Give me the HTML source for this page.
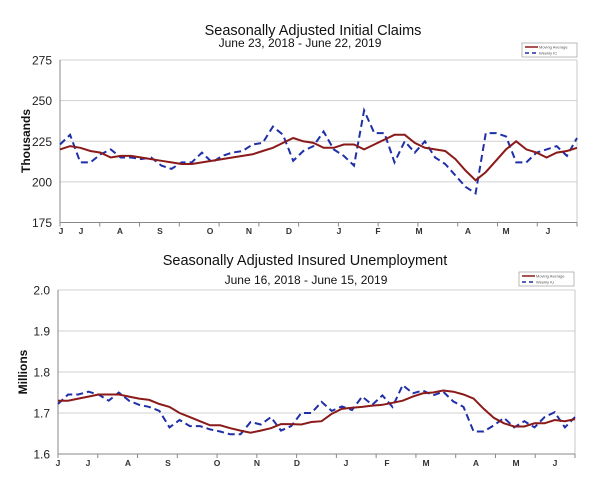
<!DOCTYPE html>
<html><head><meta charset="utf-8"><style>
html,body{margin:0;padding:0;background:#fff;width:600px;height:480px;overflow:hidden}
svg{display:block}
text{font-family:"Liberation Sans",Arial,sans-serif}
</style></head><body>
<svg id="s" width="600" height="480" viewBox="0 0 600 480" xmlns="http://www.w3.org/2000/svg">
<text x="313" y="35" font-size="14.5" text-anchor="middle" fill="#111">Seasonally Adjusted Initial  Claims</text>
<text x="300" y="47" font-size="12" text-anchor="middle" fill="#111">June 23, 2018 - June 22, 2019</text>
<text x="305" y="265" font-size="14.5" text-anchor="middle" fill="#111">Seasonally Adjusted Insured Unemployment</text>
<text x="306" y="284" font-size="12" text-anchor="middle" fill="#111">June 16, 2018 - June 15, 2019</text>
<text transform="translate(30,141) rotate(-90)" font-size="12" font-weight="bold" text-anchor="middle" fill="#111">Thousands</text>
<text transform="translate(27,372) rotate(-90)" font-size="12" font-weight="bold" text-anchor="middle" fill="#111">Millions</text>
<g id="g"></g>
</svg>
<script>
var g=document.getElementById('g'),h='';
function chart(o){
 var L=o.l,R=o.r,yb=o.yb,yt=o.yt,n=o.ma.length;
 for(var i=0;i<o.ticks.length;i++){var y=yb-(yb-yt)*i/(o.ticks.length-1);
  h+='<line x1="'+L+'" x2="'+R+'" y1="'+y+'" y2="'+y+'" stroke="#d0d0d0" stroke-width="1"/>';
  h+='<text x="'+(L-8)+'" y="'+(y+4.5)+'" font-size="12" text-anchor="end" fill="#222">'+o.ticks[i]+'</text>';}
 h+='<line x1="'+R+'" x2="'+R+'" y1="'+yt+'" y2="'+yb+'" stroke="#c8c8c8"/>';
 h+='<line x1="'+L+'" x2="'+L+'" y1="'+yt+'" y2="'+yb+'" stroke="#888"/>';
 h+='<line x1="'+L+'" x2="'+R+'" y1="'+yb+'" y2="'+yb+'" stroke="#888"/>';
 for(var t=0;t<=13;t++){var x=L+(R-L)*t/13;h+='<line x1="'+x+'" x2="'+x+'" y1="'+yb+'" y2="'+(yb+4)+'" stroke="#888"/>';}
 for(var i=0;i<o.mon.length;i++)h+='<text x="'+o.mon[i][1]+'" y="'+o.my+'" font-size="8.5" font-weight="bold" text-anchor="middle" fill="#333">'+o.mon[i][0]+'</text>';
 function P(a){var s='';for(var i=0;i<a.length;i++){var x=L+(R-L)*i/(a.length-1),y=yb-(a[i]-o.min)/(o.max-o.min)*(yb-yt);s+=(i?'L':'M')+x.toFixed(1)+' '+y.toFixed(1);}return s;}
 h+='<path d="'+P(o.wk)+'" fill="none" stroke="#1f2fa8" stroke-width="2" stroke-dasharray="7,4"/>';
 h+='<path d="'+P(o.ma)+'" fill="none" stroke="#8b1a1a" stroke-width="2"/>';
 var lx=o.lg[0],ly=o.lg[1];
 h+='<rect x="'+lx+'" y="'+ly+'" width="55" height="14" fill="#fff" stroke="#aaa" stroke-width="0.8"/>';
 h+='<line x1="'+(lx+3)+'" x2="'+(lx+16)+'" y1="'+(ly+4)+'" y2="'+(ly+4)+'" stroke="#8b1a1a" stroke-width="1.5"/>';
 h+='<line x1="'+(lx+3)+'" x2="'+(lx+16)+'" y1="'+(ly+10)+'" y2="'+(ly+10)+'" stroke="#1f2fa8" stroke-width="1.5" stroke-dasharray="4,3"/>';
 h+='<text x="'+(lx+17)+'" y="'+(ly+5.5)+'" font-size="4" fill="#555">Moving Average</text>';
 h+='<text x="'+(lx+17)+'" y="'+(ly+11.5)+'" font-size="4" fill="#555">'+o.wn+'</text>';
}
chart({l:60,r:577,yb:222.5,yt:60,min:175,max:275,ticks:['175','200','225','250','275'],my:234,wn:'Weekly IC',lg:[522,43],
 mon:[['J',61],['J',81],['A',120],['S',160],['O',210],['N',249],['D',289],['J',339],['F',378],['M',419],['A',468],['M',506],['J',548]],
 ma:[220,222,221,219,218,215,216,216,215,214,213,212,211,211,212,213,214,215,216,217,219,221,224,227,225,224,221,221,223,223,220,223,226,229,229,224,221,220,219,214,207,201,206,213,220,225,220,218,215,218,219,221],
 wk:[223,229,212,212,217,220,215,215,214,215,210,208,212,212,218,212,216,218,219,223,224,234,229,213,219,222,231,220,216,210,244,230,230,212,225,218,225,215,211,204,197,193,230,230,228,212,212,218,220,222,216,227]});
chart({l:58,r:575,yb:454,yt:290,min:1.6,max:2.0,ticks:['1.6','1.7','1.8','1.9','2.0'],my:466,wn:'Weekly IU',lg:[519,272],
 mon:[['J',58],['J',88],['A',128],['S',168],['O',217],['N',257],['D',297],['J',346],['F',387],['M',426],['A',476],['M',516],['J',555]],
 ma:[1.730,1.730,1.735,1.740,1.745,1.745,1.745,1.740,1.735,1.732,1.722,1.715,1.700,1.690,1.680,1.670,1.670,1.663,1.657,1.652,1.657,1.663,1.673,1.673,1.672,1.678,1.680,1.698,1.710,1.713,1.715,1.718,1.720,1.725,1.730,1.740,1.748,1.750,1.755,1.752,1.745,1.735,1.710,1.688,1.675,1.667,1.667,1.675,1.675,1.683,1.680,1.685],
 wk:[1.722,1.745,1.745,1.752,1.745,1.730,1.750,1.730,1.720,1.715,1.705,1.665,1.683,1.668,1.668,1.660,1.655,1.648,1.648,1.678,1.672,1.690,1.657,1.668,1.700,1.700,1.727,1.705,1.716,1.707,1.740,1.720,1.743,1.715,1.768,1.748,1.755,1.743,1.752,1.728,1.715,1.655,1.655,1.670,1.688,1.665,1.680,1.665,1.690,1.702,1.665,1.690]});
g.innerHTML=h;
</script>
</body></html>
